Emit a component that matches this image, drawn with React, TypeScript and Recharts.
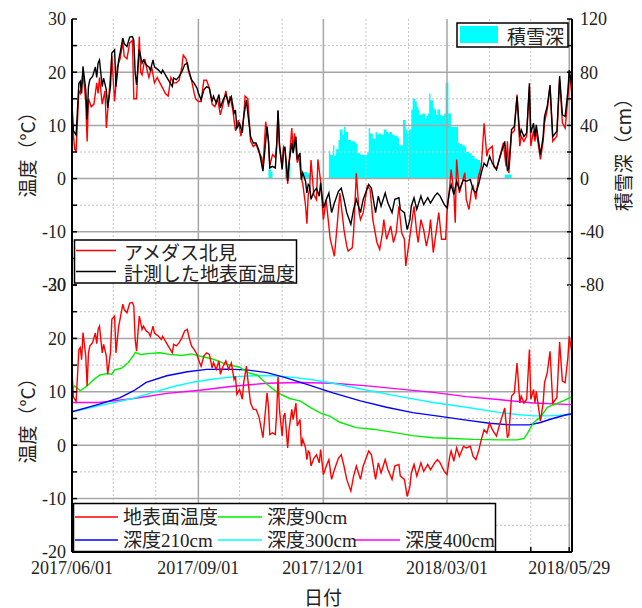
import { ComposedChart, Line, Area, XAxis, YAxis, ReferenceLine } from "recharts";

// days counted from 2017/06/01
const monthTicks = [0, 30, 61, 92, 122, 153, 183, 214, 245, 273, 304, 334, 362];
const dateLabels: Record<number, string> = {
  0: "2017/06/01",
  92: "2017/09/01",
  183: "2017/12/01",
  273: "2018/03/01",
  362: "2018/05/29",
};
const tempTicks = [-20, -15, -10, -5, 0, 5, 10, 15, 20, 25, 30];
const snowTicks = [-80, -60, -40, -20, 0, 20, 40, 60, 80, 100, 120];
const majorX = [92, 183, 273, 362];
const minorX = [30, 61, 122, 153, 214, 245, 304, 334];
const majorY = [-10, 0, 10, 20];
const minorY = [-15, -5, 5, 15, 25];

// アメダス北見 (air temperature)
const amedas = [
  [0, 11], [2, 5.5], [3, 5.2], [5, 16.5], [6, 16], [8, 20], [10, 14.4], [11, 7], [12, 15], [14, 13.5],
  [16, 14], [18, 18], [19, 16], [20, 19], [22, 14], [24, 16.5], [25, 9.5], [27, 16], [29, 23], [31, 14.5],
  [33, 21], [35, 22.5], [37, 25.6], [38, 23], [40, 22.5], [42, 25.5], [44, 26], [45, 15], [47, 15], [49, 26.7],
  [50, 20], [51, 19.5], [53, 22.5], [55, 20], [56, 19], [58, 21], [60, 18], [62, 19], [64, 18], [66, 17],
  [68, 16], [70, 15.5], [72, 19], [74, 18], [76, 18], [78, 18.5], [80, 21], [81, 23.2], [83, 22.5], [85, 20],
  [87, 18.5], [89, 16], [90, 15], [92, 14.5], [94, 14.5], [96, 18.5], [98, 18.5], [100, 17], [102, 14], [104, 13.5],
  [106, 15], [108, 12], [110, 14], [112, 16.5], [114, 13.5], [115, 15.5], [117, 13], [119, 9], [121, 11], [123, 8],
  [125, 11.5], [126, 15.5], [128, 15], [130, 7], [132, 6], [134, 6.5], [136, 5], [138, 4], [139, 2], [141, 10.7],
  [143, 7], [144, 2.5], [146, 4.5], [148, 4], [149, 6.5], [150, 12.8], [151, 6], [153, 2], [154, 6], [155, 5.5],
  [157, -1], [158, 3], [160, 9.5], [161, 5], [162, 8.5], [164, 3], [165, 4.5], [167, 0], [168, -1], [170, -5],
  [171, -8.5], [172, -3], [173, -2], [174, 3.5], [176, -3], [178, -4], [179, 3.6], [181, -0.5], [183, -7.7], [185, -4],
  [188, -11.4], [191, -14.6], [193, -8.9], [195, -2.7], [198, -9.6], [200, -12.7], [201, -13.6], [204, -13], [205, -10.2], [207, 1],
  [209, -6.4], [210, -7.7], [212, -6.4], [215, -1.4], [217, -2], [219, -7.7], [222, -12], [224, -13.3], [226, -10.2], [227, -7.7],
  [229, -11.4], [232, -8.9], [234, -12], [236, -10.2], [238, -5.2], [240, -10.2], [242, -11.4], [243, -16.4], [245, -12.7], [247, -8.9],
  [249, -5.2], [251, -10.2], [252, -12], [254, -7.7], [256, -9.6], [258, -12.7], [260, -10.2], [261, -7.7], [263, -13.9], [265, -10.2],
  [267, -6.4], [269, -11.4], [272, -11.4], [273, -6.4], [275, -1.4], [276, 1.7], [278, -2.7], [279, -8.3], [280, 3.6], [282, -2.7],
  [284, -0.8], [286, 1.1], [287, -3.9], [289, -5.8], [291, -2], [292, -1.4], [294, -3.9], [296, 0.5], [298, 2.3], [300, 10.4],
  [302, 4.2], [303, 5.4], [306, 6.1], [307, 2.3], [309, 1.7], [311, 3.6], [314, 6.7], [316, 2.3], [317, 7], [318, 1],
  [320, 8.5], [322, 9], [324, 15.8], [326, 6.1], [327, 8], [329, 7], [331, 8], [333, 17.3], [334, 6.1], [336, 9],
  [337, 7], [338, 9], [341, 3.6], [343, 7], [344, 10.5], [346, 13], [348, 17.3], [350, 7], [353, 8], [355, 18.6],
  [357, 10.5], [359, 9.5], [361, 15], [362, 19.8], [364, 15.5],
];

// 計測した地表面温度 (measured ground surface temperature)
const surface = [
  [0, 14], [1, 9], [3, 8.2], [5, 17.9], [6, 18.3], [7, 16], [8, 21.1], [10, 16.7], [11, 11.1], [12, 17.3],
  [13, 18.6], [15, 19.2], [17, 21], [18, 19], [19, 21.7], [20, 22.3], [22, 17.3], [23, 18.9], [25, 16.7], [26, 13.3],
  [28, 17.3], [29, 23.6], [31, 24.2], [32, 17.3], [34, 22.3], [35, 23.6], [37, 26.4], [38, 25.4], [40, 24.8], [42, 26.6],
  [44, 26.7], [45, 26], [46, 19.8], [47, 17.6], [48, 21], [49, 24.2], [51, 21.7], [52, 22.3], [54, 21.4], [56, 21],
  [57, 20.4], [59, 22.3], [60, 21], [63, 20.4], [65, 19.8], [66, 20.4], [68, 19.5], [70, 18.6], [73, 17.3], [74, 18.9],
  [76, 18.6], [78, 19.2], [80, 20.1], [82, 21.4], [84, 21.7], [85, 20.4], [87, 18.6], [89, 17.9], [91, 17], [92, 16.1],
  [94, 14.8], [96, 16.7], [98, 17.3], [100, 17], [102, 14.5], [103, 15.5], [105, 14.2], [107, 15.8], [108, 13.3], [110, 14.8],
  [112, 15.8], [114, 14.2], [116, 15.4], [118, 12.3], [119, 12.9], [120, 9.5], [122, 10.4], [124, 8.6], [125, 11.7], [127, 14.8],
  [128, 12.3], [130, 7.9], [132, 6.7], [134, 6.7], [136, 5.4], [137, 4.2], [139, 1.4], [140, 4.2], [142, 9.8], [143, 7.3],
  [144, 2], [146, 2.3], [148, 2], [149, 6], [150, 12.8], [151, 6.7], [153, 1.7], [154, 5.4], [155, 6], [157, -0.5],
  [158, 2.9], [160, 6.7], [161, 4.8], [163, 7.9], [164, 3.6], [166, 4.8], [167, -0.2], [168, 1.1], [170, -0.5], [171, -2.7],
  [172, -1.1], [173, -1.4], [174, -3.9], [176, -2.5], [178, -1.8], [180, -3.3], [181, -0.8], [183, -5.5], [185, -4], [187, -2.7],
  [189, -6.4], [191, -4.6], [194, -2.4], [196, -1.8], [198, -3.9], [200, -6.4], [203, -8.6], [205, -5.8], [207, -3.9], [210, -6.4],
  [212, -3.9], [216, -1.1], [218, -1.8], [221, -6.4], [223, -3.3], [225, -5.2], [228, -2.7], [230, -4.6], [233, -6.4], [235, -3.9],
  [238, -3.6], [239, -5.8], [242, -6.4], [244, -9.6], [246, -7.7], [247, -5.2], [249, -3.6], [251, -5.8], [254, -3.3], [256, -4.9],
  [259, -3.6], [261, -4.6], [264, -3.3], [266, -2.7], [268, -3.3], [271, -4.9], [273, -5.5], [275, -2.1], [276, -1.1], [278, -3],
  [280, -0.5], [282, -2.1], [285, -0.2], [287, -0.5], [290, -0.2], [292, -2.1], [294, -2.7], [296, -1.1], [298, 1.1], [300, 2.9],
  [302, 2.3], [304, 4.2], [306, 2.9], [309, 1.7], [311, 3.6], [314, 6.1], [315, 7], [317, 1.4], [318, 2], [320, 9.2],
  [322, 9.8], [324, 15.4], [326, 7.9], [327, 9.2], [329, 7.9], [331, 8.6], [333, 17.9], [334, 8.6], [336, 10.4], [337, 7.9],
  [338, 10.1], [341, 4.5], [343, 7.9], [344, 11.7], [346, 13.6], [348, 17.6], [350, 7.9], [353, 8.9], [355, 19.3], [357, 12],
  [359, 11.7], [361, 16.4], [362, 20.4], [364, 17.3],
];

// 積雪深 (snow depth, cm)
const snow = [
  [143, 7], [144, 7], [145, 5], [146, 0], [155, 10], [157, 12], [159, 0], [169, 5], [171, 4], [173, 3], [174, 0],
  [187, 21], [188, 18], [190, 25], [191, 17], [192, 22], [194, 29], [195, 37], [197, 33], [198, 39], [199, 35],
  [201, 29], [203, 28], [206, 27], [207, 26], [208, 19], [210, 18], [212, 18], [215, 20], [216, 38], [217, 34],
  [219, 30], [221, 35], [222, 33], [223, 34], [225, 33], [227, 37], [229, 35], [230, 34], [231, 35], [233, 33],
  [235, 32], [237, 31], [238, 25], [240, 25], [241, 44], [243, 37], [244, 34], [245, 37], [247, 52], [248, 60],
  [250, 58], [251, 54], [252, 52], [253, 48], [255, 49], [257, 45], [258, 47], [259, 49], [260, 64], [261, 59],
  [263, 53], [264, 52], [265, 48], [266, 52], [268, 48], [269, 47], [271, 49], [272, 72], [274, 49], [276, 39],
  [278, 39], [279, 39], [281, 27], [282, 26], [284, 25], [286, 24], [287, 20], [289, 19], [291, 17], [293, 15],
  [295, 14], [297, 12], [298, 0], [315, 3], [316, 3], [318, 3], [320, 0],
];

// ground temperature at depth
const depth90 = [
  [0, 10.5], [2, 11.1], [6, 10.2], [11, 11.1], [15, 12.1], [20, 13.1], [25, 13.4], [29, 13.3], [31, 14.1], [36, 14.4],
  [41, 15.5], [45, 16.9], [46, 17.4], [50, 17], [57, 17.2], [64, 17.3], [71, 17], [80, 16.8], [87, 17.1], [93, 16.7],
  [103, 16.1], [112, 15.2], [122, 14.6], [128, 13.6], [135, 13.1], [142, 11.4], [149, 10], [153, 9.4], [159, 8.7],
  [166, 8.3], [174, 7], [181, 6], [188, 5.4], [195, 4.3], [207, 3.3], [219, 3], [234, 2.4], [248, 1.8], [263, 1.4],
  [278, 1.25], [292, 1.1], [312, 1], [324, 1], [329, 1.25], [332, 2.4], [336, 4.25], [341, 5.2], [346, 7.1], [350, 7.5],
  [355, 8], [360, 8.6], [364, 9.1],
];
const depth210 = [
  [0, 6.25], [20, 7.7], [35, 8.9], [45, 10.2], [54, 11.75], [69, 13], [84, 13.75], [98, 14.2], [113, 14.25], [127, 14.1],
  [142, 13.6], [156, 12.6], [171, 11.4], [190, 9.8], [210, 8.3], [229, 7.1], [248, 6.1], [268, 5.4], [287, 4.7],
  [304, 4.1], [319, 3.8], [333, 3.8], [341, 4.25], [350, 5], [360, 5.7], [364, 5.9],
];
const depth300 = [
  [0, 6.25], [20, 7.4], [45, 8.8], [59, 9.9], [74, 11], [88, 11.8], [103, 12.4], [117, 12.8], [132, 13], [147, 13],
  [161, 12.7], [176, 12.2], [190, 11.6], [215, 10.3], [239, 9.1], [263, 8], [287, 7.1], [312, 6.1], [326, 5.7],
  [336, 5.5], [346, 5.5], [355, 5.6], [364, 5.8],
];
const depth400 = [
  [0, 8], [20, 8], [45, 8.75], [69, 9.7], [93, 10.3], [117, 11.05], [142, 11.6], [166, 11.75], [190, 11.6], [215, 11.1],
  [239, 10.5], [263, 9.9], [287, 9.1], [312, 8.5], [336, 7.9], [364, 7.6],
];

const pts = (arr: number[][]) => arr.map(([d, v]) => ({ d, v }));

const serif = "'Liberation Serif', 'Noto Sans CJK JP'";
const gothic = "'Noto Sans CJK JP', 'Noto Sans'";
const tickFont = { fontFamily: serif, fontSize: 18, fill: "#222" };
const axisLine = { stroke: "#000", strokeWidth: 2 };
const tickLine = { stroke: "#000", strokeWidth: 1.5 };

function gridLines() {
  return [
    ...minorX.map((v) => (
      <ReferenceLine key={"mx" + v} x={v} xAxisId="b" yAxisId="l" stroke="#c4c4c4" strokeDasharray="2 2" />
    )),
    ...minorY.map((v) => (
      <ReferenceLine key={"my" + v} y={v} xAxisId="b" yAxisId="l" stroke="#c4c4c4" strokeDasharray="2 2" />
    )),
    ...majorX.map((v) => (
      <ReferenceLine key={"Mx" + v} x={v} xAxisId="b" yAxisId="l" stroke="#a6a6a6" strokeWidth={1.5} />
    )),
    ...majorY.map((v) => (
      <ReferenceLine key={"My" + v} y={v} xAxisId="b" yAxisId="l" stroke="#a6a6a6" strokeWidth={1.5} />
    )),
  ];
}

function line(data: number[][], color: string, width = 1.4) {
  return (
    <Line
      data={pts(data)}
      dataKey="v"
      xAxisId="b"
      yAxisId="l"
      type="linear"
      stroke={color}
      strokeWidth={width}
      dot={false}
      activeDot={false}
      isAnimationActive={false}
    />
  );
}

function frameAxes(showDates: boolean, rightLabels: boolean) {
  return [
    <XAxis
      key="b"
      xAxisId="b"
      dataKey="d"
      type="number"
      domain={[0, 364]}
      ticks={monthTicks}
      interval={0}
      allowDataOverflow
      height={showDates ? 40 : 0}
      tick={showDates ? tickFont : false}
      tickFormatter={(v: number) => dateLabels[v] ?? ""}
      tickSize={-5}
      tickMargin={14}
      axisLine={axisLine}
      tickLine={tickLine}
    />,
    <XAxis
      key="t"
      xAxisId="t"
      orientation="top"
      dataKey="d"
      type="number"
      domain={[0, 364]}
      ticks={monthTicks}
      interval={0}
      height={0}
      tick={false}
      tickSize={-5}
      axisLine={axisLine}
      tickLine={tickLine}
    />,
    <YAxis
      key="l"
      yAxisId="l"
      type="number"
      domain={[-20, 30]}
      ticks={tempTicks}
      interval={0}
      allowDataOverflow
      width={72}
      tick={tickFont}
      tickFormatter={(v: number) => (v % 10 === 0 ? String(v) : "")}
      tickSize={-5}
      tickMargin={11}
      axisLine={axisLine}
      tickLine={tickLine}
    />,
    rightLabels ? (
      <YAxis
        key="r"
        yAxisId="r"
        orientation="right"
        type="number"
        domain={[-80, 120]}
        ticks={snowTicks}
        interval={0}
        allowDataOverflow
        width={70}
        tick={tickFont}
        tickFormatter={(v: number) => (v % 40 === 0 ? String(v) : "")}
        tickSize={-5}
        tickMargin={13}
        axisLine={axisLine}
        tickLine={tickLine}
      />
    ) : (
      <YAxis
        key="r"
        yAxisId="r"
        orientation="right"
        type="number"
        domain={[-20, 30]}
        ticks={tempTicks}
        interval={0}
        width={70}
        tick={false}
        tickSize={-5}
        axisLine={axisLine}
        tickLine={tickLine}
      />
    ),
  ];
}

export default function App() {
  return (
    <div style={{ position: "absolute", left: 0, top: 0, width: 642, height: 608, background: "#fff" }}>
      <div style={{ position: "absolute", left: 0, top: 0 }}>
        <ComposedChart width={642} height={300} margin={{ top: 19, right: 0, bottom: 15, left: 0 }}>
          {gridLines()}
          <Area
            data={pts(snow)}
            dataKey="v"
            xAxisId="b"
            yAxisId="r"
            type="stepAfter"
            baseValue={0}
            fill="#00ffff"
            fillOpacity={1}
            stroke="none"
            isAnimationActive={false}
          />
          {line(amedas, "#ff0000")}
          {line(surface, "#000000")}
          {frameAxes(false, true)}
        </ComposedChart>
      </div>
      <div style={{ position: "absolute", left: 0, top: 0 }}>
        <ComposedChart width={642} height={608} margin={{ top: 285, right: 0, bottom: 16, left: 0 }}>
          {gridLines()}
          {line(depth400, "#ff00ff")}
          {line(depth300, "#00ffff")}
          {line(depth210, "#0000ff")}
          {line(depth90, "#00ee00")}
          {line(surface, "#ff0000")}
          {frameAxes(true, false)}
        </ComposedChart>
      </div>
      <svg
        width={642}
        height={608}
        style={{ position: "absolute", left: 0, top: 0, pointerEvents: "none" }}
      >
        <g fontFamily={gothic} fontSize={19} fill="#222">
          <text transform="translate(26,150) rotate(-90)" textAnchor="middle" dominantBaseline="central">
            温度（°C）
          </text>
          <text transform="translate(26,416) rotate(-90)" textAnchor="middle" dominantBaseline="central">
            温度（°C）
          </text>
          <text transform="translate(622,150) rotate(-90)" textAnchor="middle" dominantBaseline="central">
            積雪深（cm）
          </text>
          <text x={323} y={596} textAnchor="middle" dominantBaseline="central">
            日付
          </text>
        </g>

        {/* top-left legend */}
        <rect x={74.5} y={240} width={222} height={43} fill="#fff" stroke="#000" strokeWidth={1.5} />
        <line x1={76} x2={116} y1={250.5} y2={250.5} stroke="#ff0000" strokeWidth={1.3} />
        <line x1={76} x2={116} y1={271.5} y2={271.5} stroke="#000" strokeWidth={1.3} />
        <g fontFamily={gothic} fontSize={19} fill="#222" dominantBaseline="central">
          <text x={124} y={251}>アメダス北見</text>
          <text x={124} y={272}>計測した地表面温度</text>
        </g>

        {/* snow legend */}
        <rect x={457} y={23} width={111} height={24} fill="#fff" stroke="#000" strokeWidth={1.5} />
        <rect x={460} y={26} width={38} height={17} fill="#00ffff" />
        <text x={507} y={35.5} fontFamily={gothic} fontSize={19} fill="#222" dominantBaseline="central">
          積雪深
        </text>

        {/* bottom legend */}
        <rect x={73.5} y={503.5} width={422} height={48} fill="#fff" stroke="#000" strokeWidth={1.5} />
        <line x1={75} x2={118} y1={517} y2={517} stroke="#ff0000" strokeWidth={1.3} />
        <line x1={218} x2={262} y1={517} y2={517} stroke="#00ee00" strokeWidth={1.3} />
        <line x1={75} x2={118} y1={540} y2={540} stroke="#0000ff" strokeWidth={1.3} />
        <line x1={218} x2={262} y1={540} y2={540} stroke="#00ffff" strokeWidth={1.3} />
        <line x1={355} x2={400} y1={540} y2={540} stroke="#ff00ff" strokeWidth={1.3} />
        <g fontFamily={serif} fontSize={19} fill="#222" dominantBaseline="central">
          <text x={123} y={517}>地表面温度</text>
          <text x={267} y={517}>深度90cm</text>
          <text x={123} y={540}>深度210cm</text>
          <text x={267} y={540}>深度300cm</text>
          <text x={405} y={540}>深度400cm</text>
        </g>
      </svg>
    </div>
  );
}
